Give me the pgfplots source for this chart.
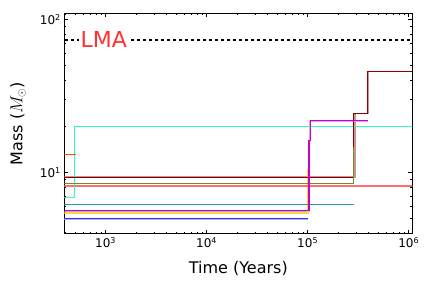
\documentclass[border=0pt]{standalone}
\usepackage{pgfplots}
\pgfplotsset{compat=1.18}
\usepackage{fontspec}
\setmainfont{DejaVu Sans}
\definecolor{aqua}{RGB}{50,250,180}
\definecolor{ored}{RGB}{255,69,0}
\definecolor{dred}{RGB}{139,0,0}
\definecolor{dredl}{RGB}{190,120,120}
\definecolor{olive}{RGB}{107,142,35}
\definecolor{salm}{RGB}{255,110,110}
\definecolor{tealc}{RGB}{32,160,160}
\definecolor{mag}{RGB}{200,0,200}
\definecolor{magl}{RGB}{235,160,235}
\definecolor{goldc}{RGB}{255,215,60}
\definecolor{slate}{RGB}{120,110,210}
\definecolor{bluec}{RGB}{50,50,220}
\definecolor{bluel}{RGB}{175,175,255}
\definecolor{lmared}{RGB}{255,50,50}
\begin{document}
\begin{tikzpicture}
\useasboundingbox (-64.3pt,-54pt) rectangle (367.7pt,234pt);
\begin{axis}[
  scale only axis, width=348pt, height=220.7pt,
  xmode=log, ymode=log,
  xmin=390, xmax=1.086e6, ymin=3.97, ymax=110,
  xtick={1000,10000,100000,1000000},
  xticklabels={10\textsuperscript{3},10\textsuperscript{4},10\textsuperscript{5},10\textsuperscript{6}},
  ytick={10,100},
  yticklabels={10\textsuperscript{1},10\textsuperscript{2}},
  minor xtick={400,500,600,700,800,900,2000,3000,4000,5000,6000,7000,8000,9000,20000,30000,40000,50000,60000,70000,80000,90000,200000,300000,400000,500000,600000,700000,800000,900000},
  minor ytick={4,5,6,7,8,9,20,30,40,50,60,70,80,90},
  tick align=inside,
  major tick length=4pt, minor tick length=2pt,
  tick style={black, line width=0.5pt},
  ticklabel style={font=\fontsize{12}{14}\selectfont},
  axis line style={line width=1pt},
  xlabel={Time (Years)}, ylabel={Mass ($M_\odot$)},
  every axis x label/.style={at={(axis description cs:0.5,-0.154)},anchor=center,font=\fontsize{16}{18}\selectfont},
  every axis y label/.style={at={(axis description cs:-0.133,0.5)},rotate=90,anchor=center,font=\fontsize{16}{18}\selectfont},
  clip=true,
]
% LMA line
\addplot[black, line width=2pt, dash pattern=on 3pt off 3pt] coordinates {(300,74) (1.2e6,74)};
\node[fill=white, text=lmared, font=\fontsize{22}{24}\selectfont, inner sep=1.5pt, anchor=center] at (axis cs:960,74) {LMA};
% translucent thick companions
\addplot[dredl, line width=2.5pt, opacity=0.8] coordinates {(300,9.33) (2.9e5,9.33) (2.9e5,24.2)};
\addplot[dredl, line width=2.5pt, opacity=0.8] coordinates {(3.95e5,24.2) (3.95e5,46.1)};
\addplot[magl, line width=2.5pt] coordinates {(1.06e5,16.2) (1.06e5,21.8) (3.97e5,21.8)};
\addplot[bluel, line width=2.5pt] coordinates {(300,4.98) (1.0e5,4.98)};
\addplot[slate, line width=1.5pt, opacity=0.6] coordinates {(300,5.57) (1.06e5,5.57)};
\addplot[goldc, line width=2.2pt] coordinates {(300,5.47) (1.01e5,5.47) (1.01e5,10.5)};
\addplot[salm, line width=1.8pt] coordinates {(300,8.22) (1.2e6,8.22)};
% thin lines
\addplot[aqua, line width=1.2pt] coordinates {(300,6.85) (490,6.85) (490,20.1) (1.2e6,20.1)};
\addplot[ored, line width=1pt] coordinates {(300,13.1) (505,13.1)};
\addplot[dred, line width=1pt] coordinates {(300,9.33) (2.87e5,9.33) (2.87e5,24.2) (3.93e5,24.2) (3.93e5,46.1) (1.2e6,46.1)};
\addplot[olive, line width=1.2pt] coordinates {(300,8.52) (2.85e5,8.52) (2.85e5,14.8)};
\addplot[tealc, line width=1.2pt] coordinates {(300,6.21) (2.85e5,6.21)};
\addplot[mag, line width=1.2pt] coordinates {(300,5.68) (1.03e5,5.68) (1.03e5,16.2) (1.06e5,16.2) (1.06e5,21.8) (3.97e5,21.8)};
\addplot[bluec, line width=1pt] coordinates {(300,4.98) (1.0e5,4.98)};
\end{axis}
\end{tikzpicture}
\end{document}
